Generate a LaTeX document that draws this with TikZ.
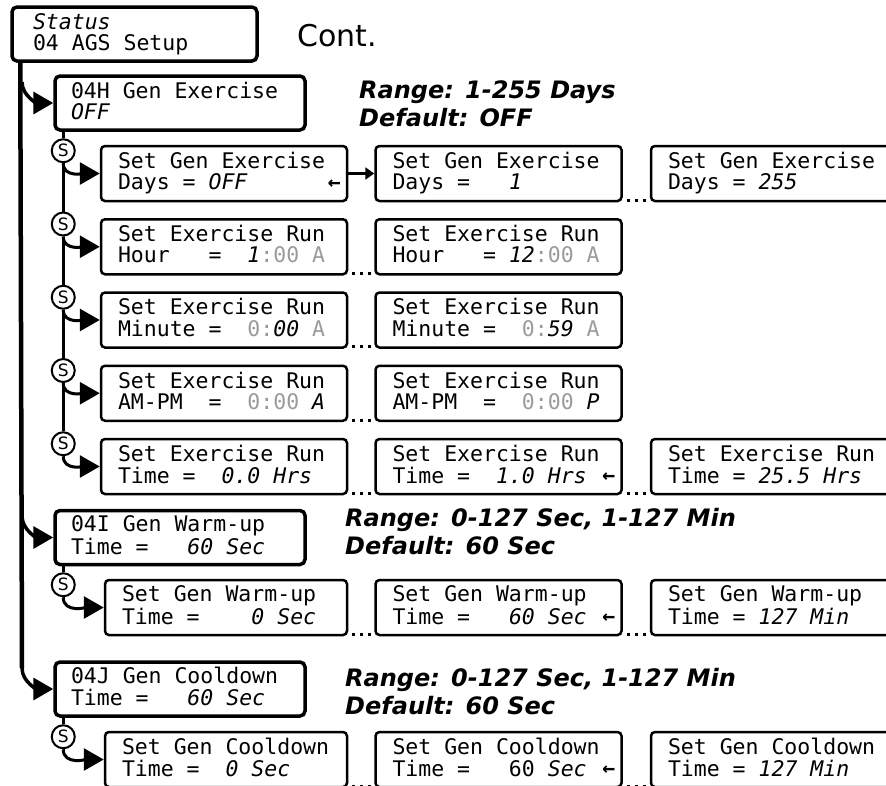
\documentclass[tikz,border=0pt]{standalone}
\usepackage{fontspec}
\usetikzlibrary{arrows.meta,positioning,calc}
\newfontfamily\lcdfont{DejaVu Sans Mono}[ItalicFont={* Oblique},BoldFont={* Bold}]
\newfontfamily\notefont{DejaVu Sans}[BoldItalicFont={* Bold Oblique}]
\definecolor{Ink}{HTML}{000000}
\definecolor{Faded}{HTML}{9B9B9B}
\newcommand{\faded}[1]{\textcolor{Faded}{#1}}
\newcommand{\val}[1]{{\itshape #1}}
\newcommand{\lcdstrut}{\rule[-5pt]{0pt}{21pt}}
\newcommand{\screen}[2]{\spaceskip=\fontdimen2\font\xspaceskip=\fontdimen2\font\lcdstrut#1\\\lcdstrut#2}
\tikzset{
  menu/.style={draw=Ink, line width=3.5pt, rounded corners=5pt, align=left, minimum width=250pt, minimum height=54pt, text width=218pt, inner xsep=16pt, inner ysep=0pt, font=\lcdfont\fontsize{21.5}{21}\selectfont},
  setbox/.style={menu, line width=2.5pt, rounded corners=4pt, minimum width=246pt, text width=212pt, inner xsep=17pt, minimum height=55pt},
  sdot/.style={circle, draw=Ink, line width=2pt, fill=white, inner sep=0pt, minimum size=23pt, font=\notefont\fontsize{17}{17}\selectfont},
  trunk/.style={draw=Ink, line width=4.5pt},
  subline/.style={draw=Ink, line width=3.5pt},
  branch/.style={-{Triangle[length=20pt,width=22pt]}, draw=Ink, line width=3.5pt},
  nextarrow/.style={-{Triangle[length=9pt,width=12pt]}, draw=Ink, line width=3pt},
  ellipsis/.style={draw=Ink, line width=3pt, dash pattern=on 3pt off 5pt, shorten <=4pt, shorten >=3pt},
  defmark/.style={inner sep=0pt, font=\lcdfont\bfseries\fontsize{21.5}{21}\selectfont},
  note/.style={anchor=north west, inner sep=0pt, align=left, font=\notefont\bfseries\itshape\fontsize{24}{28}\selectfont}
}
\begin{document}
\begin{tikzpicture}[x=1pt, y=1pt]
\clip (0,0) rectangle (886,-785);
\fill[white] (0,0) rectangle (886,-785);
% top of the menu
\node[menu, minimum width=245pt, text width=203pt, inner xsep=21pt] (status) at (134.5,-34) {\screen{\val{Status}}{04 AGS Setup}};
\node[anchor=base west, inner sep=0pt, font=\notefont\fontsize{30}{30}\selectfont] (cont) at (297,-46) {Cont.};
% 04H gen exercise
\node[menu] (gen04H) at (180,-103) {\screen{04H Gen Exercise}{\val{OFF}}};
\node[note] (rng04H) at (359,-80) {Range: 1-255 Days\\Default: OFF};
\node[setbox] (ex1a) at (224,-173.5) {\screen{Set Gen Exercise}{Days = \val{OFF}}};
\node[setbox, right=26pt of ex1a] (ex1b) {\screen{Set Gen Exercise}{Days =~~~\val{1}}};
\node[setbox, right=27pt of ex1b] (ex1c) {\screen{Set Gen Exercise}{Days = \val{255}}};
\node[setbox, below=15.75pt of ex1a] (ex2a) {\screen{Set Exercise Run}{Hour~~~=~~\val{1}\faded{:00 A}}};
\node[setbox, right=26pt of ex2a] (ex2b) {\screen{Set Exercise Run}{Hour~~~= \val{12}\faded{:00 A}}};
\node[setbox, below=15.75pt of ex2a] (ex3a) {\screen{Set Exercise Run}{Minute =~~\faded{0:}\val{00} \faded{A}}};
\node[setbox, right=26pt of ex3a] (ex3b) {\screen{Set Exercise Run}{Minute =~~\faded{0:}\val{59} \faded{A}}};
\node[setbox, below=15.75pt of ex3a] (ex4a) {\screen{Set Exercise Run}{AM-PM~~=~~\faded{0:00} \val{A}}};
\node[setbox, right=26pt of ex4a] (ex4b) {\screen{Set Exercise Run}{AM-PM~~=~~\faded{0:00} \val{P}}};
\node[setbox, below=15.75pt of ex4a] (ex5a) {\screen{Set Exercise Run}{Time =~~\val{0.0 Hrs}}};
\node[setbox, right=26pt of ex5a] (ex5b) {\screen{Set Exercise Run}{Time =~~\val{1.0 Hrs}}};
\node[setbox, right=27pt of ex5b] (ex5c) {\screen{Set Exercise Run}{Time = \val{25.5 Hrs}}};
\foreach \i in {1,...,5}
  \node[sdot] (sx\i) at ($(gen04H.south west |- ex\i a.north)+(10,-6)$) {S};
% 04I gen warm-up
\node[menu] (gen04I) at (180,-537.5) {\screen{04I Gen Warm-up}{Time =~~~\val{60 Sec}}};
\node[note] (rng04I) at (345,-508) {Range: 0-127 Sec, 1-127 Min\\Default: 60 Sec};
\node[setbox, minimum width=242pt, text width=208pt] (wu1a) at (226,-607.5) {\screen{Set Gen Warm-up}{Time =~~~~\val{0 Sec}}};
\node[setbox, right=26pt of wu1a] (wu1b) {\screen{Set Gen Warm-up}{Time =~~~\val{60 Sec}}};
\node[setbox, right=27pt of wu1b] (wu1c) {\screen{Set Gen Warm-up}{Time = \val{127 Min}}};
\node[sdot] (sw) at ($(gen04I.south west |- wu1a.north)+(10,-6)$) {S};
% 04J gen cooldown
\node[menu] (gen04J) at (180,-689) {\screen{04J Gen Cooldown}{Time =~~~\val{60 Sec}}};
\node[note] (rng04J) at (345,-668) {Range: 0-127 Sec, 1-127 Min\\Default: 60 Sec};
\node[setbox, minimum width=242pt, text width=208pt] (cd1a) at (226,-759.5) {\screen{Set Gen Cooldown}{Time =~~\val{0 Sec}}};
\node[setbox, right=26pt of cd1a] (cd1b) {\screen{Set Gen Cooldown}{Time =~~~60 \val{Sec}}};
\node[setbox, right=27pt of cd1b] (cd1c) {\screen{Set Gen Cooldown}{Time = \val{127 Min}}};
\node[sdot] (sc) at ($(gen04J.south west |- cd1a.north)+(10,-6)$) {S};
% default markers
\foreach \b in {ex1a,ex5b,wu1b,cd1b}
  \node[defmark] (def-\b) at ([xshift=-14pt,yshift=-11pt]\b.east) {←};
% trunk and branches
\coordinate (tapH) at (22,-82);
\coordinate (tapI) at (22,-516);
\coordinate (tapJ) at (22,-668);
\draw[trunk] ([xshift=10pt]status.south west) -- (tapJ);
\draw[branch] (tapH) to[out=-90,in=180] (gen04H.west);
\draw[branch] (tapI) to[out=-90,in=180] (gen04I.west);
\draw[branch] (tapJ) to[out=-90,in=180] (gen04J.west);
\draw[subline] ([xshift=10pt]gen04H.south west) -- (sx1) -- (sx2) -- (sx3) -- (sx4) -- (sx5);
\draw[subline] ([xshift=10pt]gen04I.south west) -- (sw);
\draw[subline] ([xshift=10pt]gen04J.south west) -- (sc);
\foreach \i in {1,...,5}
  \draw[branch, line width=3pt] (sx\i) to[out=-90,in=180] (ex\i a.west);
\draw[branch, line width=3pt] (sw) to[out=-90,in=180] (wu1a.west);
\draw[branch, line width=3pt] (sc) to[out=-90,in=180] (cd1a.west);
\draw[nextarrow] (ex1a) -- (ex1b);
\foreach \a/\b in {ex1b/ex1c,ex2a/ex2b,ex3a/ex3b,ex4a/ex4b,ex5a/ex5b,ex5b/ex5c,wu1a/wu1b,wu1b/wu1c,cd1a/cd1b,cd1b/cd1c}
  \draw[ellipsis] ([yshift=2pt]\a.south east) -- ([yshift=2pt]\b.south west);
\end{tikzpicture}
\end{document}
